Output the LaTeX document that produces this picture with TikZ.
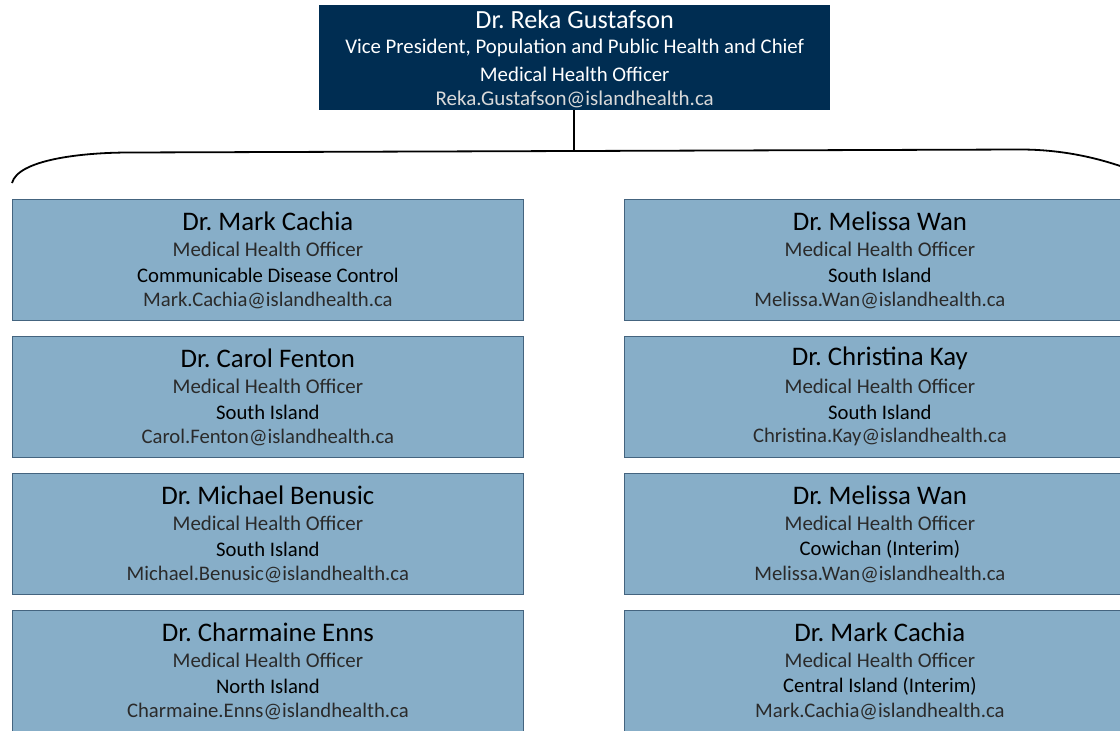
\documentclass[tikz,border=0pt]{standalone}
\usepackage{fontspec}
\setmainfont{Carlito}
\usetikzlibrary{calc}
\frenchspacing
\begin{document}
\begin{tikzpicture}[x=1pt,y=-1pt,
  topbox/.style={draw=none,fill=navy,minimum width=511pt,minimum height=105pt,inner sep=0pt,anchor=north west},
  pbox/.style={draw=boxedge,line width=0.8pt,fill=boxfill,minimum width=511pt,minimum height=121pt,inner sep=0pt,anchor=north west},
  nametxt/.style={font=\fontsize{26.8}{30}\selectfont,text=black,inner sep=0pt},
  titletxt/.style={font=\fontsize{20.9}{24}\selectfont,text=greytxt,inner sep=0pt},
  regtxt/.style={font=\fontsize{20.7}{24}\selectfont,text=black,inner sep=0pt},
  mailtxt/.style={font=\fontsize{20.7}{24}\selectfont,text=greytxt,inner sep=0pt},
  toptxt/.style={inner sep=0pt,text=white,font=\fontsize{20.8}{24}\selectfont},
  link/.style={line width=1.8pt,black}]
\definecolor{navy}{HTML}{002D52}
\definecolor{boxfill}{HTML}{87AEC8}
\definecolor{boxedge}{HTML}{44647F}
\definecolor{greytxt}{HTML}{2A2A2A}
\definecolor{lightgrey}{HTML}{D9D9D9}
\useasboundingbox (0,0) rectangle (1120,731);
\clip (0,0) rectangle (1120,731);
\newcommand{\personbox}[6]{%
  \node[pbox] (#1) at (#2,#3) {};
  \node[nametxt] (#1n) at ($(#1.north)+(0,22)$) {#4};
  \node[titletxt] (#1t) at ($(#1.north)+(0,50)$) {Medical Health Officer};
  \node[regtxt] (#1r) at ($(#1.north)+(0,76)$) {#5};
  \node[mailtxt] (#1e) at ($(#1.north)+(0,101)$) {#6};
}
% top box
\node[topbox] (top) at (319,5) {};
\node[inner sep=0pt,text=white,font=\fontsize{26.2}{30}\selectfont] (topn) at ($(top.north)+(0,15)$) {Dr. Reka Gustafson};
\node[toptxt] (topt1) at ($(top.north)+(0,43)$) {Vice President, Population and Public Health and Chief};
\node[toptxt] (topt2) at ($(top.north)+(0,69)$) {Medical Health Officer};
\node[toptxt,text=lightgrey,font=\fontsize{21}{24}\selectfont] (tope) at ($(top.north)+(0,94)$) {Reka.Gustafson@islandhealth.ca};
% connector
\coordinate (bj) at (574,150);
\coordinate (bl) at (12,183);
\coordinate (br) at (1126,168);
\draw[link] (top.south -| bj) -- (bj);
\draw[link] (bl) .. controls (18,160) and (80,152.5) .. (130,152.5) -- (1020,149.5) .. controls (1060,149.5) and (1095,157) .. (br);
% people
\personbox{a1}{12}{199}{Dr. Mark Cachia}{Communicable Disease Control}{Mark.Cachia@islandhealth.ca}
\personbox{a2}{12}{336}{Dr. Carol Fenton}{South Island}{Carol.Fenton@islandhealth.ca}
\personbox{a3}{12}{473}{Dr. Michael Benusic}{South Island}{Michael.Benusic@islandhealth.ca}
\personbox{a4}{12}{610}{Dr. Charmaine Enns}{North Island}{Charmaine.Enns@islandhealth.ca}
\personbox{b1}{624}{199}{Dr. Melissa Wan}{South Island}{Melissa.Wan@islandhealth.ca}
\personbox{b2}{624}{336}{Dr. Christina Kay}{South Island}{Christina.Kay@islandhealth.ca}
\personbox{b3}{624}{473}{Dr. Melissa Wan}{Cowichan (Interim)}{Melissa.Wan@islandhealth.ca}
\personbox{b4}{624}{610}{Dr. Mark Cachia}{Central Island (Interim)}{Mark.Cachia@islandhealth.ca}
\end{tikzpicture}
\end{document}
